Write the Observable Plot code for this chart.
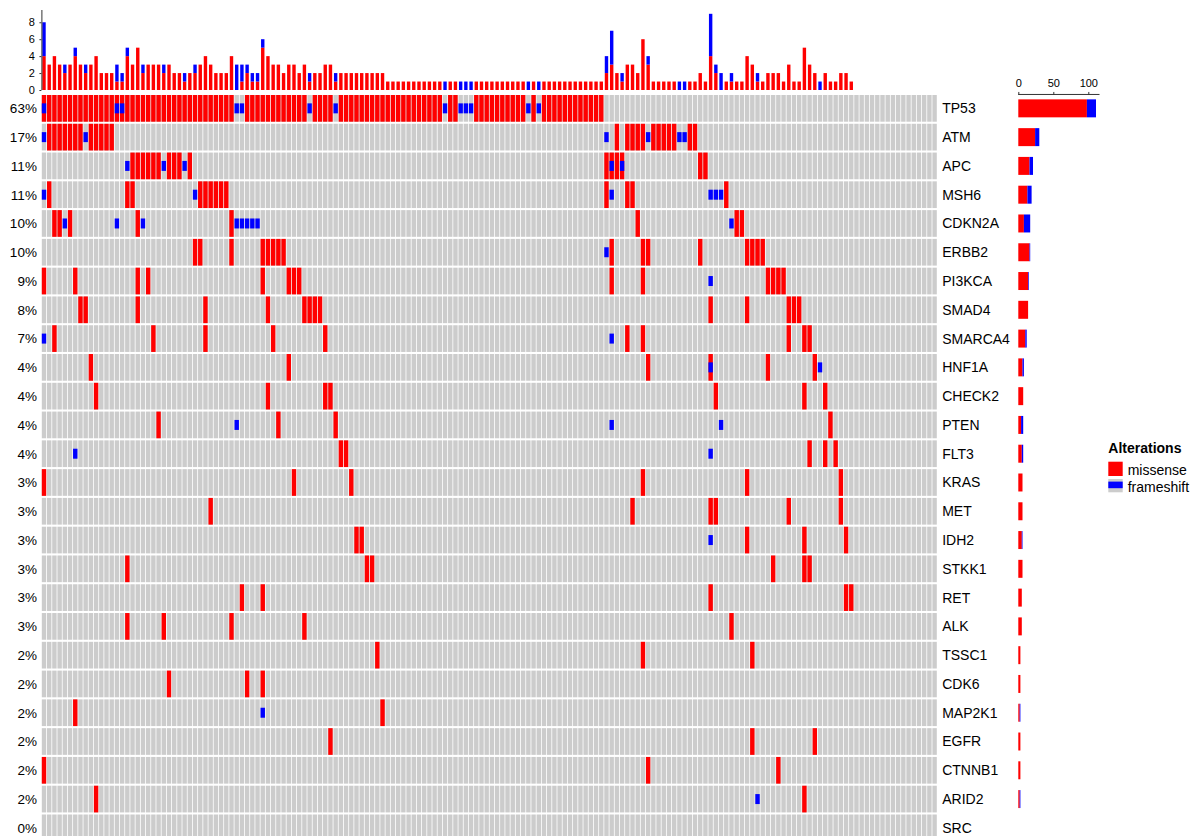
<!DOCTYPE html>
<html><head><meta charset="utf-8">
<script src="https://cdn.jsdelivr.net/npm/d3@7"></script>
<script src="https://cdn.jsdelivr.net/npm/@observablehq/plot@0.6"></script>
<style>
html,body{margin:0;padding:0;background:#fff;overflow:hidden;}
#wrap{position:relative;width:1198px;height:836px;overflow:hidden;font-family:"Liberation Sans",Arial,Helvetica,sans-serif;}
#wrap svg{position:absolute;left:0;top:0;}
</style></head><body><div id="wrap"></div>
<script>
// ---------------- data ----------------
const nSamples = 172;
const genes = ["TP53","ATM","APC","MSH6","CDKN2A","ERBB2","PI3KCA","SMAD4","SMARCA4","HNF1A","CHECK2","PTEN","FLT3","KRAS","MET","IDH2","STKK1","RET","ALK","TSSC1","CDK6","MAP2K1","EGFR","CTNNB1","ARID2","SRC"];
// sample (column) indices carrying a missense alteration, one list per gene
const missense = [
  [0,1,2,3,4,5,6,7,8,9,10,11,12,13,14,15,16,17,18,19,20,21,22,23,24,25,26,27,28,29,30,31,32,33,34,35,36,39,40,41,42,43,44,45,46,47,48,49,50,52,53,54,55,57,58,59,60,61,62,63,64,65,66,67,68,69,70,71,72,73,74,75,76,78,79,83,84,85,86,87,88,89,90,91,92,94,96,97,98,99,100,101,102,103,104,105,106,107],
  [1,2,3,4,5,6,7,9,10,11,12,13,110,112,113,114,115,117,118,119,120,121,124,125],
  [17,18,19,20,21,22,24,25,26,28,108,109,110,111,126,127],
  [1,16,17,30,31,32,33,34,35,108,112,113,131],
  [2,3,5,18,36,114,133,134],
  [29,30,36,42,43,44,45,46,109,115,116,126,135,136,137,138],
  [0,6,18,20,42,47,48,49,109,115,139,140,141,142],
  [7,8,18,31,43,50,51,52,53,128,135,143,144,145],
  [2,21,31,44,54,112,115,143,146,147],
  [9,47,116,128,139,148],
  [10,43,54,55,129,146,150],
  [22,45,56,151],
  [57,58,147,150,152],
  [0,48,59,115,135,153],
  [32,113,128,129,143,153],
  [60,61,135,146,154],
  [16,62,63,140,146,147],
  [38,42,128,154,155],
  [16,23,36,50,132],
  [64,115,136],
  [24,39,42],
  [6,65],
  [55,136,148],
  [0,116,141],
  [10,146],
  []
];
// sample (column) indices carrying a frameshift alteration, one list per gene
const frameshift = [
  [0,14,15,37,38,51,56,77,80,81,82,93,95],
  [0,8,108,116,122,123],
  [16,23,27,109,111],
  [0,29,109,128,129,130],
  [4,14,19,37,38,39,40,41,132],
  [108],
  [128],
  [],
  [0,109],
  [128,149],
  [],
  [37,109,130],
  [6,128],
  [],[],
  [128],
  [],[],[],[],[],
  [42],
  [],[],
  [137],
  []
];
const topTicks = [0,2,4,6,8];
const rightTicks = [0,50,100];
const legendItems = ["missense","frameshift"];
const colors = {missense:"#ff0000", frameshift:"#0000ff", none:"#cccccc"};

// ---------------- derived tables ----------------
const bgCells = [];
genes.forEach((gene,g)=>{ for (let s=0;s<nSamples;s++) bgCells.push({g,s}); });
const misCells = genes.flatMap((gene,g)=>missense[g].map(s=>({g,s})));
const fsCells = genes.flatMap((gene,g)=>frameshift[g].map(s=>({g,s})));
const misCount = d3.rollup(misCells, v=>v.length, d=>d.s);
const fsCount = d3.rollup(fsCells, v=>v.length, d=>d.s);
const topBars = [];
for (let s=0;s<nSamples;s++){
  const m = misCount.get(s)||0, f = fsCount.get(s)||0;
  if (m) topBars.push({s, y1:0, y2:m, type:"missense"});
  if (f) topBars.push({s, y1:m, y2:m+f, type:"frameshift"});
}
const geneStats = genes.map((gene,g)=>{
  const altered = new Set([...missense[g], ...frameshift[g]]);
  return {gene, g, m: missense[g].length, f: frameshift[g].length,
          pct: Math.round(altered.size/nSamples*100) + "%"};
});
const rightBars = geneStats.flatMap(d=>[
  {g:d.g, x1:0, x2:d.m, type:"missense"},
  {g:d.g, x1:d.m, x2:d.m+d.f, type:"frameshift"}
]).filter(b=>b.x2>b.x1);

// ---------------- layout ----------------
const font = "'Liberation Sans', Arial, Helvetica, sans-serif";
const W = 1198, H = 850;
const X0 = 41.4, X1 = 937.2;
const rowTop = 93.96, pitch = 28.78;
const gridBottom = rowTop + pitch*genes.length;
const baseStyle = {background:"transparent", fontFamily:font, color:"#000", overflow:"visible"};
const wrap = document.getElementById("wrap");

// top: alterations per sample
const topMax = 9.45;
const topPlot = Plot.plot({
  width: W, height: 95, marginLeft: X0, marginRight: W - X1, marginTop: 10, marginBottom: 5,
  style: baseStyle,
  x: {domain:[0,nSamples], axis:null},
  y: {domain:[0,topMax]},
  marks: [
    Plot.rect(topBars, {x1:d=>d.s, x2:d=>d.s+1, y1:"y1", y2:"y2", fill:d=>colors[d.type], insetLeft:0.9, insetRight:0.9}),
    Plot.axisY({ticks: topTicks, tickSize:2, tickPadding:5, fontSize:11, stroke:"#333", label:null}),
    Plot.ruleX([0], {y1:()=>0, y2:()=>topMax, stroke:"#333"})
  ]
});
wrap.appendChild(topPlot);

// matrix
const cellOpts = {x1:d=>d.s, x2:d=>d.s+1, y1:d=>d.g, y2:d=>d.g+1, insetLeft:0.4, insetRight:0.4};
const matrix = Plot.plot({
  width: W, height: H, marginLeft: X0, marginRight: W - X1, marginTop: rowTop, marginBottom: H - gridBottom,
  style: baseStyle,
  x: {domain:[0,nSamples], axis:null},
  y: {domain:[0,genes.length], reverse:true, axis:null},
  marks: [
    Plot.rect(bgCells, {...cellOpts, fill:colors.none, insetTop:1.04, insetBottom:1.04}),
    Plot.rect(misCells, {...cellOpts, fill:colors.missense, insetTop:1.04, insetBottom:1.04}),
    Plot.rect(fsCells, {...cellOpts, fill:colors.frameshift, insetTop:9.4, insetBottom:9.4}),
    Plot.text(geneStats, {x:()=>0, y:d=>d.g+0.5, text:"pct", textAnchor:"end", dx:-5, dy:0, fontSize:13.5, fill:"#000"}),
    Plot.text(geneStats, {x:()=>nSamples, y:d=>d.g+0.5, text:"gene", textAnchor:"start", dx:4.5, dy:0, fontSize:14, fill:"#000"})
  ]
});
wrap.appendChild(matrix);

// right: alterations per gene
const rightMax = 116;
const rightPlot = Plot.plot({
  width: W, height: H, marginLeft: 1018.3, marginRight: W - 1099.5, marginTop: rowTop, marginBottom: H - gridBottom,
  style: baseStyle,
  x: {domain:[0,rightMax]},
  y: {domain:[0,genes.length], reverse:true, axis:null},
  marks: [
    Plot.rect(rightBars, {x1:"x1", x2:"x2", y1:d=>d.g, y2:d=>d.g+1, fill:d=>colors[d.type], insetTop:5.4, insetBottom:5.4}),
    Plot.ruleY([0], {x1:()=>0, x2:()=>rightMax, stroke:"#333"}),
    Plot.axisX({anchor:"top", ticks: rightTicks, tickSize:3, tickPadding:4, fontSize:11, stroke:"#333", label:null})
  ]
});
wrap.appendChild(rightPlot);

// legend
const ns = "http://www.w3.org/2000/svg";
const leg = document.createElementNS(ns, "svg");
leg.setAttribute("width", 100); leg.setAttribute("height", 70);
leg.style.left = "1100px"; leg.style.top = "435px";
leg.setAttribute("font-family", font);
const title = document.createElementNS(ns, "text");
title.setAttribute("x", 8.3); title.setAttribute("y", 18.3);
title.setAttribute("font-size", 14); title.setAttribute("font-weight", "bold");
title.textContent = "Alterations";
leg.appendChild(title);
legendItems.forEach((name,i)=>{
  const y0 = 26.7 + i*17.3;
  if (name === "missense") {
    const r = document.createElementNS(ns, "rect");
    r.setAttribute("x", 8.3); r.setAttribute("y", y0); r.setAttribute("width", 14.4); r.setAttribute("height", 14.3);
    r.setAttribute("fill", colors.missense); leg.appendChild(r);
  } else {
    const r = document.createElementNS(ns, "rect");
    r.setAttribute("x", 8.3); r.setAttribute("y", y0); r.setAttribute("width", 14.4); r.setAttribute("height", 13.3);
    r.setAttribute("fill", colors.none); leg.appendChild(r);
    const b = document.createElementNS(ns, "rect");
    b.setAttribute("x", 8.3); b.setAttribute("y", y0+2.6); b.setAttribute("width", 14.4); b.setAttribute("height", 6.6);
    b.setAttribute("fill", colors.frameshift); leg.appendChild(b);
  }
  const t = document.createElementNS(ns, "text");
  t.setAttribute("x", 27.7); t.setAttribute("y", y0 + 13.3);
  t.setAttribute("font-size", 14); t.textContent = name;
  leg.appendChild(t);
});
wrap.appendChild(leg);
</script></body></html>
